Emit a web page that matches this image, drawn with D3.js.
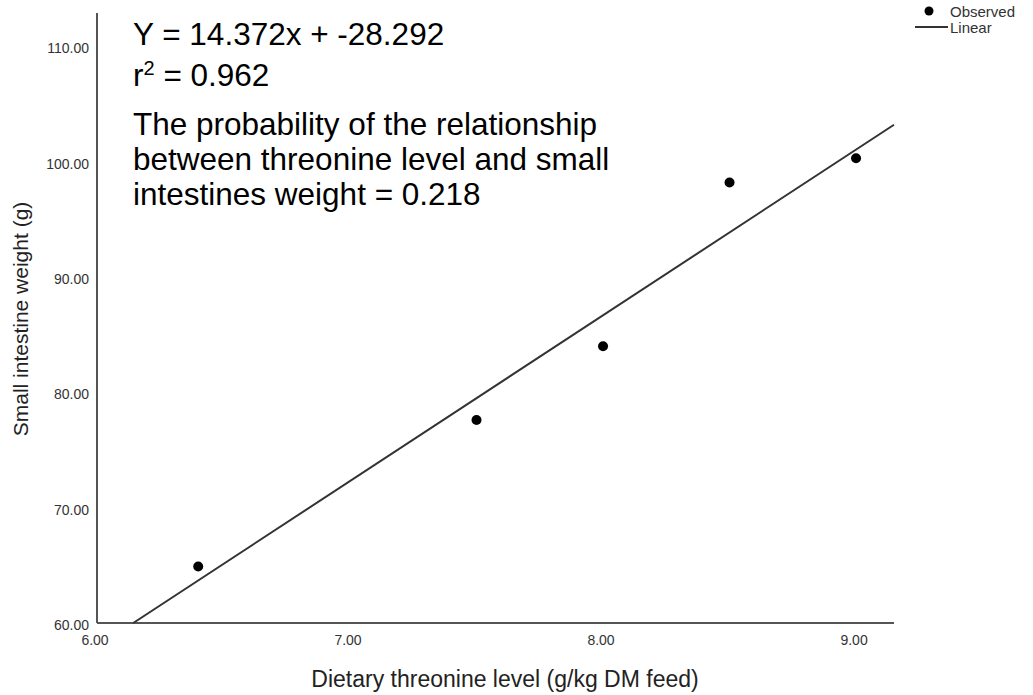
<!DOCTYPE html>
<html>
<head>
<meta charset="utf-8">
<script src="https://cdn.jsdelivr.net/npm/d3@7"></script>
<style>
  body { margin: 0; background: #fff; }
  text { font-family: Arial, "Liberation Sans", sans-serif; }
</style>
</head>
<body>
<div class="scatter_chart"></div>
<script>
// observed points
var threonine = [6.4, 7.5, 8.0, 8.5, 9.0];
var intestineWeight = [64.9, 77.6, 84.0, 98.2, 100.3];

// fitted line Y = 14.372x + -28.292
var slope = 14.372;
var intercept = -28.292;

var xTicks = [6, 7, 8, 9];
var yTicks = [60, 70, 80, 90, 100, 110];

var annotationLines = [
  "The probability of the relationship",
  "between threonine level and small",
  "intestines weight = 0.218",
];

var width = 1033,
  height = 695;

var svg = d3
  .select(".scatter_chart")
  .append("svg")
  .attr("width", width)
  .attr("height", height);

var x = d3.scaleLinear().domain([6, 9.15]).range([97, 894]);
var y = d3.scaleLinear().domain([60, 112.9]).range([623, 13]);

// axes lines
svg
  .append("line")
  .attr("x1", x(6))
  .attr("x2", x(6))
  .attr("y1", y(112.9))
  .attr("y2", y(60))
  .attr("stroke", "#555")
  .attr("stroke-width", 2);
svg
  .append("line")
  .attr("x1", x(6))
  .attr("x2", x(9.15))
  .attr("y1", y(60))
  .attr("y2", y(60))
  .attr("stroke", "#555")
  .attr("stroke-width", 2);

// tick labels
svg
  .selectAll("x_ticks")
  .data(xTicks)
  .enter()
  .append("text")
  .attr("x", (d) => x(d) - 2)
  .attr("y", 645)
  .attr("text-anchor", "middle")
  .style("font-size", "14px")
  .style("fill", "#333")
  .text((d) => d.toFixed(2));

svg
  .selectAll("y_ticks")
  .data(yTicks)
  .enter()
  .append("text")
  .attr("x", 89)
  .attr("y", (d) => y(d) + 7)
  .attr("text-anchor", "end")
  .style("font-size", "14px")
  .style("fill", "#333")
  .text((d) => d.toFixed(2));

// axis titles
svg
  .append("text")
  .attr("x", 505)
  .attr("y", 687)
  .attr("text-anchor", "middle")
  .style("font-size", "23px")
  .style("fill", "#222")
  .text("Dietary threonine level (g/kg DM feed)");

svg
  .append("text")
  .attr("transform", "translate(28,319) rotate(-90)")
  .attr("text-anchor", "middle")
  .style("font-size", "21px")
  .style("fill", "#222")
  .text("Small intestine weight (g)");

// fit line, clipped to the plot area
var x0 = (60 - intercept) / slope;
var x1 = 9.15;
svg
  .append("line")
  .attr("x1", x(x0))
  .attr("y1", y(slope * x0 + intercept))
  .attr("x2", x(x1))
  .attr("y2", y(slope * x1 + intercept))
  .attr("stroke", "#333")
  .attr("stroke-width", 2);

// observed points
svg
  .selectAll("dots")
  .data(threonine)
  .enter()
  .append("circle")
  .attr("cx", (d) => x(d))
  .attr("cy", (d, i) => y(intestineWeight[i]))
  .attr("r", 5)
  .attr("fill", "#000");

// annotation
var ann = svg.append("g").style("font-size", "31.5px").style("fill", "#000");
ann.append("text").attr("x", 133).attr("y", 45).text("Y = 14.372x + -28.292");
var r2 = ann.append("text").attr("x", 133).attr("y", 86);
r2.append("tspan").text("r");
r2.append("tspan").attr("dy", -11).style("font-size", "20px").text("2");
r2.append("tspan").attr("dy", 11).text(" = 0.962");
ann
  .selectAll("para")
  .data(annotationLines)
  .enter()
  .append("text")
  .attr("x", 133)
  .attr("y", (d, i) => 135 + i * 35)
  .text((d) => d);

// legend
svg
  .append("circle")
  .attr("cx", 929)
  .attr("cy", 11)
  .attr("r", 4.5)
  .attr("fill", "#000");
svg
  .append("text")
  .attr("x", 950)
  .attr("y", 17)
  .style("font-size", "15px")
  .style("fill", "#333")
  .text("Observed");
svg
  .append("line")
  .attr("x1", 915)
  .attr("x2", 948)
  .attr("y1", 27)
  .attr("y2", 27)
  .attr("stroke", "#333")
  .attr("stroke-width", 2);
svg
  .append("text")
  .attr("x", 950)
  .attr("y", 33)
  .style("font-size", "15px")
  .style("fill", "#333")
  .text("Linear");
</script>
</body>
</html>
